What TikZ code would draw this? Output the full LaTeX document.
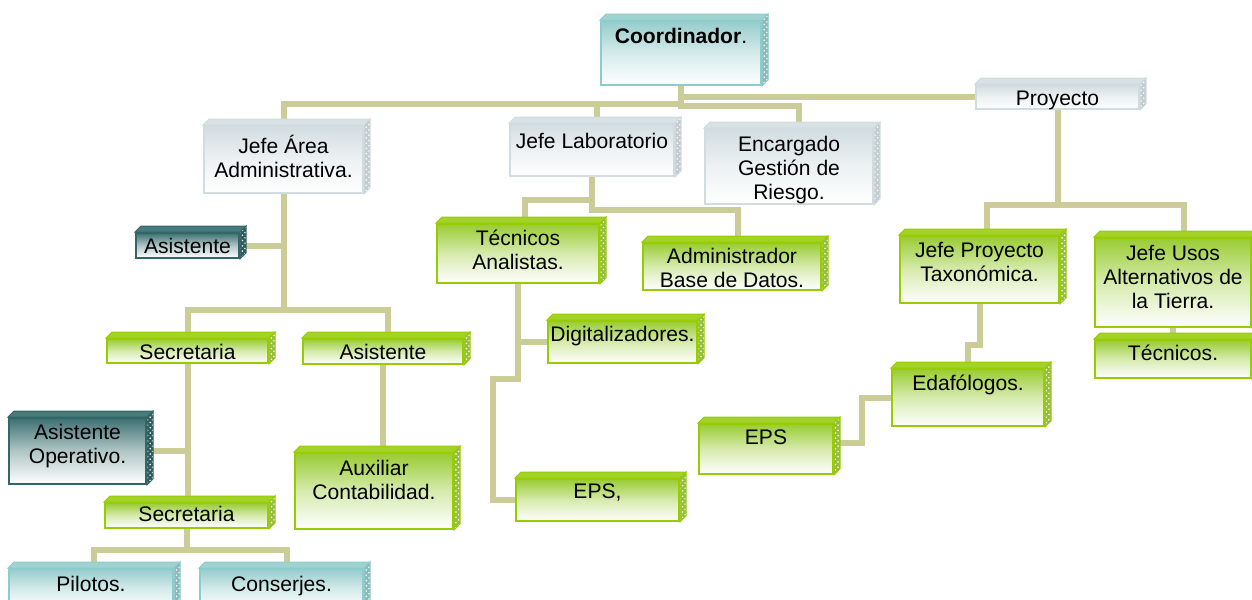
\documentclass[tikz,border=0pt]{standalone}
\usepackage{fontspec}
\setmainfont{Liberation Sans}
\usetikzlibrary{patterns}
\newlength\px
\setlength\px{0.02cm}
\definecolor{linkc}{RGB}{204,204,153}
\definecolor{greenline}{RGB}{153,204,0}
\definecolor{greentop}{RGB}{153,204,51}
\definecolor{greenface}{RGB}{163,210,40}
\definecolor{greenside}{RGB}{150,190,70}
\definecolor{grayline}{RGB}{208,220,224}
\definecolor{graytop}{RGB}{210,221,225}
\definecolor{grayface}{RGB}{216,225,228}
\definecolor{grayside}{RGB}{196,204,207}
\definecolor{cyanline}{RGB}{140,204,204}
\definecolor{cyantop}{RGB}{150,204,204}
\definecolor{cyanface}{RGB}{160,210,210}
\definecolor{cyanside}{RGB}{140,186,186}
\definecolor{tealline}{RGB}{51,102,102}
\definecolor{tealtop}{RGB}{60,112,114}
\definecolor{tealface}{RGB}{72,122,124}
\definecolor{tealside}{RGB}{48,92,94}
\newcommand\boxtext[4]{\parbox[c][#2\px][t]{#1\px}{\centering\vspace*{#3\px}\strut#4}}
\pgfdeclarelayer{back}
\pgfsetlayers{back,main}
\tikzset{
  box/.style={draw=#1line, top color=#1top, bottom color=white, middle color=#1top!40!white,
    line width=2\px, inner sep=0pt, anchor=north west, font=\fontsize{12}{13.6}\selectfont},
  topface/.style={fill=#1face, draw=#1line, line width=1\px},
  sideface/.style={preaction={fill=#1side}, pattern=crosshatch dots, pattern color=white, draw=#1line, line width=1\px},
  link/.style={draw=linkc, line width=6\px}
}
\begin{document}
\begin{tikzpicture}[x=0.02cm, y=-0.02cm]
  \useasboundingbox (0,0) rectangle (1252,599);
  \clip (0,0) rectangle (1252,599);
  % boxes
  \node[box=cyan] (coord) at (600,20) {\boxtext{160}{64}{6}{\textbf{Coordinador}.}};
  \node[box=gray] (proy) at (975,84) {\boxtext{163}{24}{4}{Proyecto}};
  \node[box=gray] (jefeArea) at (203,125) {\boxtext{159}{67}{9}{Jefe Área\\Administrativa.}};
  \node[box=gray] (jefeLab) at (509,123) {\boxtext{164}{52}{8}{Jefe Laboratorio}};
  \node[box=gray] (encarg) at (704,128) {\boxtext{168}{75}{6}{Encargado\\Gestión de\\Riesgo.}};
  \node[box=green] (tecAnal) at (436,223) {\boxtext{162}{59}{5}{Técnicos\\Analistas.}};
  \node[box=green] (admin) at (642,242) {\boxtext{178}{47}{4}{Administrador\\Base de Datos.}};
  \node[box=green] (digit) at (547,320) {\boxtext{149}{42}{4}{Digitalizadores.}};
  \node[box=green] (epsMid) at (515,478) {\boxtext{163}{42}{3}{EPS,}};
  \node[box=green] (epsDer) at (698,423) {\boxtext{134}{50}{4}{EPS}};
  \node[box=green] (edaf) at (891,368) {\boxtext{152}{57}{5}{Edafólogos.}};
  \node[box=green] (jefeProy) at (899,235) {\boxtext{159}{67}{5}{Jefe Proyecto\\Taxonómica.}};
  \node[box=green] (jefeUsos) at (1094,237) {\boxtext{156}{89}{6}{Jefe Usos\\Alternativos de\\la Tierra.}};
  \node[box=green] (tecnicos) at (1094,339) {\boxtext{156}{38}{4}{Técnicos.}};
  \node[box=teal] (asisAdm) at (135,232) {\boxtext{103}{25}{4}{Asistente}};
  \node[box=green] (secre) at (106,338) {\boxtext{161}{24}{4}{Secretaria}};
  \node[box=green] (asisSec) at (302,338) {\boxtext{160}{25}{4}{Asistente}};
  \node[box=teal] (asisOper) at (8,417) {\boxtext{137}{66}{5}{Asistente\\Operativo.}};
  \node[box=green] (secreDos) at (104,502) {\boxtext{163}{25}{2}{Secretaria}};
  \node[box=green] (auxCont) at (294,452) {\boxtext{158}{76}{6}{Auxiliar\\Contabilidad.}};
  \node[box=cyan] (pilotos) at (8,568) {\boxtext{164}{40}{6}{Pilotos.}};
  \node[box=cyan] (conserjes) at (199,568) {\boxtext{163}{40}{6}{Conserjes.}};
  % 3d faces
  \foreach \n/\k in {coord/cyan, proy/gray, jefeArea/gray, jefeLab/gray, encarg/gray,
      tecAnal/green, admin/green, digit/green, epsMid/green, epsDer/green, edaf/green,
      jefeProy/green, jefeUsos/green, tecnicos/green, asisAdm/teal, secre/green,
      asisSec/green, asisOper/teal, secreDos/green, auxCont/green, pilotos/cyan, conserjes/cyan} {
    \draw[topface=\k] (\n.north west) -- ++(6,-6) -- ([shift={(6,-6)}]\n.north east) -- (\n.north east) -- cycle;
    \draw[sideface=\k] (\n.north east) -- ++(6,-6) -- ([shift={(6,-6)}]\n.south east) -- (\n.south east) -- cycle;
  }
  % connectors
  \begin{pgfonlayer}{back}
    \draw[link] (coord.south) -- ++(0,18) -| (jefeArea.north);
    \draw[link] (coord.south) -- ++(0,18) -| ([xshift=5\px]jefeLab.north);
    \draw[link] (coord.south) -- ++(0,20) -| ([xshift=10\px]encarg.north);
    \draw[link] (coord.south) |- (proy.west);
    \draw[link] (proy.south) -- ++(0,95) -| ([xshift=7\px]jefeProy.north);
    \draw[link] (proy.south) -- ++(0,95) -| ([xshift=11\px]jefeUsos.north);
    \draw[link] (jefeUsos.south) -- (jefeUsos.south |- tecnicos.north);
    \draw[link] (jefeProy.south) -- ++(0,41) -| (edaf.north);
    \draw[link] (edaf.west) -- ++(-29,0) |- ([yshift=6\px]epsDer.east);
    \draw[link] (jefeLab.south) -- ++(0,23) -| ([xshift=7\px]tecAnal.north);
    \draw[link] (jefeLab.south) -- ++(0,33) -| ([xshift=6\px]admin.north);
    \draw[link] (tecAnal.south) |- (digit.west);
    \draw[link] (tecAnal.south) -- ++(0,95) -- ++(-25,0) |- (epsMid.west);
    \draw[link] (jefeArea.south) -- ++(0,116) -| (secre.north);
    \draw[link] (jefeArea.south) -- ++(0,116) -| ([xshift=5\px]asisSec.north);
    \draw[link] (asisAdm.east) -- (asisAdm.east -| jefeArea.south);
    \draw[link] (asisSec.south) -- (asisSec.south |- auxCont.north);
    \draw[link] (secre.south) -- (secre.south |- secreDos.north);
    \draw[link] (asisOper.east) -- (asisOper.east -| secre.south);
    \draw[link] (secreDos.south) -- ++(0,21) -| ([xshift=3\px]pilotos.north);
    \draw[link] (secreDos.south) -- ++(0,21) -| ([xshift=5\px]conserjes.north);
  \end{pgfonlayer}
\end{tikzpicture}
\end{document}
